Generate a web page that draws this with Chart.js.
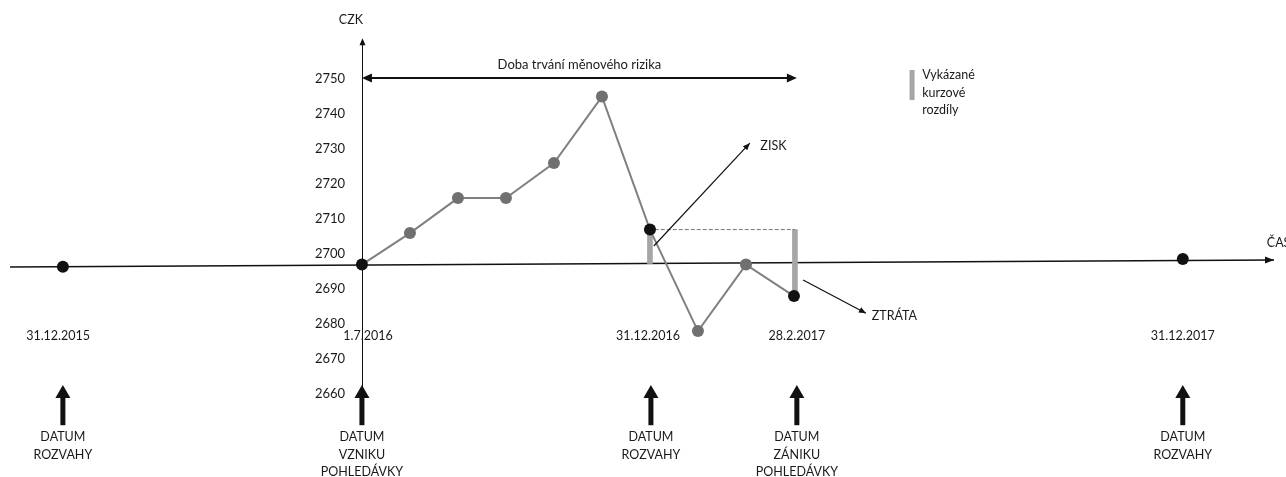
<!DOCTYPE html>
<html lang="cs">
<head>
<meta charset="utf-8">
<title>Doba trvání měnového rizika</title>
<script src="https://cdn.jsdelivr.net/npm/chart.js"></script>
<style>
	html, body { margin: 0; padding: 0; background: #fff; }
	#wrap { width: 1286px; height: 477px; }
</style>
</head>
<body>
<div id="wrap"><canvas id="chart-fx-risk" width="1286" height="477"></canvas></div>
<script>
// x runs in timeline "steps" (0 = 1.7.2016), y is the rate in CZK
const STEPS = [0, 1, 2, 3, 4, 5, 6, 7, 8, 9];
const RATES = [2697, 2706, 2716, 2716, 2726, 2745, 2707, 2678, 2697, 2688];
const KEY_STEPS = [0, 6, 9]; // vznik, rozvaha, zánik -> black points

const BALANCE_X = [-6.23, 17.1];
const BALANCE_Y = [2696.4, 2698.6];

const TIMELINE_X = [-7.33, 19.0];
const TIMELINE_Y = [2696.3, 2698.3];

// vykázané kurzové rozdíly
const DIFF_X = [6.0, 9.02];
const DIFF_RANGES = [[2697.3, 2707], [2688, 2707]];
const DASH_X = [6.1, 9.02];
const DASH_Y = [2707, 2707];

const Y_TICKS = [2660, 2670, 2680, 2690, 2700, 2710, 2720, 2730, 2740, 2750];

const DATE_LABELS = ["31.12.2015", "1.7.2016", "31.12.2016", "28.2.2017", "31.12.2017"];
const DATE_X = [-6.33, 0.125, 5.96, 9.06, 17.1];

const EVENT_X = [-6.23, 0, 6.02, 9.06, 17.1];
const EVENT_LABELS = [
	["DATUM", "ROZVAHY"],
	["DATUM", "VZNIKU", "POHLEDÁVKY"],
	["DATUM", "ROZVAHY"],
	["DATUM", "ZÁNIKU", "POHLEDÁVKY"],
	["DATUM", "ROZVAHY"],
];

const TEXT = "#1a1a1a";
const FAMILY = "Lato, 'Open Sans', sans-serif";
const FONT = `12.5px ${FAMILY}`;

//--------------------------------------------
// Annotations (arrows, captions)
//--------------------------------------------
const arrowHead = (ctx, x1, y1, x2, y2, len, half) => {
	const a = Math.atan2(y2 - y1, x2 - x1);
	const c = Math.cos(a), s = Math.sin(a);
	ctx.beginPath();
	ctx.moveTo(x2, y2);
	ctx.lineTo(x2 - len * c + half * s, y2 - len * s - half * c);
	ctx.lineTo(x2 - len * c - half * s, y2 - len * s + half * c);
	ctx.closePath();
	ctx.fill();
};

const line = (ctx, x1, y1, x2, y2, width) => {
	ctx.lineWidth = width;
	ctx.beginPath();
	ctx.moveTo(x1, y1);
	ctx.lineTo(x2, y2);
	ctx.stroke();
};

const text = (ctx, str, x, y, align) => {
	ctx.textAlign = align || "center";
	ctx.textBaseline = "middle";
	ctx.fillText(str, x, y);
};

const diagramPlugin = {
	id: "diagram",
	beforeDatasetsDraw(chart) {
		const { ctx } = chart;
		const X = (v) => chart.scales.x.getPixelForValue(v);
		const Y = (v) => chart.scales.y.getPixelForValue(v);
		ctx.save();
		ctx.strokeStyle = "#111";
		ctx.fillStyle = "#111";
		// y axis with arrow
		const x0 = Math.round(X(0)) + 0.5;
		line(ctx, x0, Y(2660.5), x0, Y(2761.2), 1);
		arrowHead(ctx, x0, Y(2700), x0, Y(2761.7), 7, 3);
		ctx.restore();
	},
	afterDatasetsDraw(chart) {
		const { ctx } = chart;
		const X = (v) => chart.scales.x.getPixelForValue(v);
		const Y = (v) => chart.scales.y.getPixelForValue(v);
		ctx.save();
		ctx.strokeStyle = "#111";
		ctx.fillStyle = "#111";

		// timeline arrow head
		arrowHead(ctx, X(TIMELINE_X[0]), Y(TIMELINE_Y[0]), X(TIMELINE_X[1]), Y(TIMELINE_Y[1]), 9, 3.5);

		// doba trvání měnového rizika
		const ry = Y(2750.3);
		line(ctx, X(0) + 6, ry, X(9.06) - 6, ry, 2);
		arrowHead(ctx, X(9.06), ry, X(0), ry, 10, 4.5);
		arrowHead(ctx, X(0), ry, X(9.06), ry, 10, 4.5);

		// zisk / ztráta pointers
		line(ctx, X(6.08), Y(2702.3), X(8.08), Y(2731.7), 1.2);
		arrowHead(ctx, X(6.08), Y(2702.3), X(8.08), Y(2731.7), 7, 3);
		line(ctx, X(9.19), Y(2692.6), X(10.5), Y(2683.1), 1.2);
		arrowHead(ctx, X(9.19), Y(2692.6), X(10.5), Y(2683.1), 7, 3);

		// event arrows
		EVENT_X.forEach((ev) => {
			const cx = X(ev);
			const tip = Y(2662.6);
			const base = Y(2651.1);
			ctx.fillRect(cx - 2.5, tip + 12, 5, base - tip - 12);
			ctx.beginPath();
			ctx.moveTo(cx, tip);
			ctx.lineTo(cx + 7.5, tip + 13);
			ctx.lineTo(cx - 7.5, tip + 13);
			ctx.closePath();
			ctx.fill();
		});

		// legend swatch
		ctx.fillStyle = "#a6a6a6";
		ctx.fillRect(X(11.46) - 2.5, Y(2752.6), 5, Y(2744) - Y(2752.6));

		// texts
		ctx.fillStyle = TEXT;
		ctx.font = FONT;
		text(ctx, "CZK", X(-0.23), Y(2766.9));
		text(ctx, "ZISK", X(8.3), Y(2730.9), "left");
		text(ctx, "ZTRÁTA", X(10.62), Y(2682.3), "left");
		text(ctx, "ČAS", X(18.85), Y(2703.1), "left");
		["Vykázané", "kurzové", "rozdíly"].forEach((s, i) => {
			text(ctx, s, X(11.67), Y(2751.1) + i * 17.5, "left");
		});
		DATE_LABELS.forEach((s, i) => text(ctx, s, X(DATE_X[i]), Y(2676.6)));
		EVENT_LABELS.forEach((rows, i) => {
			rows.forEach((s, j) => text(ctx, s, X(EVENT_X[i]), Y(2647.7) + j * 17.5));
		});
		ctx.font = `13px ${FAMILY}`;
		text(ctx, "Doba trvání měnového rizika", X(4.53), Y(2754.1));
		ctx.restore();
	},
};

//--------------------------------------------
// Chart
//--------------------------------------------
const CHART_DATA = {
	datasets: [
		{
			type: "line",
			label: "Kurz",
			data: STEPS.map((x, i) => ({ x, y: RATES[i] })),
			borderColor: "#808080",
			borderWidth: 2,
			pointRadius: 6,
			pointBorderWidth: 0,
			pointBackgroundColor: STEPS.map((x) => (KEY_STEPS.includes(x) ? "#111111" : "#707070")),
			order: 2,
		},
		{
			type: "line",
			label: "Časová osa",
			data: TIMELINE_X.map((x, i) => ({ x, y: TIMELINE_Y[i] })),
			borderColor: "#111111",
			borderWidth: 1.4,
			pointRadius: 0,
			order: 5,
		},
		{
			type: "line",
			label: "Rozvaha",
			data: BALANCE_X.map((x, i) => ({ x, y: BALANCE_Y[i] })),
			showLine: false,
			pointRadius: 6,
			pointBorderWidth: 0,
			pointBackgroundColor: "#111111",
			order: 1,
		},
		{
			type: "line",
			label: "Úroveň",
			data: DASH_X.map((x, i) => ({ x, y: DASH_Y[i] })),
			borderColor: "#777777",
			borderWidth: 1,
			borderDash: [4, 2],
			pointRadius: 0,
			order: 3,
		},
		{
			type: "bar",
			label: "Vykázané kurzové rozdíly",
			data: DIFF_X.map((x, i) => ({ x, y: DIFF_RANGES[i] })),
			backgroundColor: "#a6a6a6",
			borderWidth: 0,
			barThickness: 5,
			order: 4,
		},
	],
};

const CHART_CONFIG = {
	type: "line",
	data: CHART_DATA,
	plugins: [diagramPlugin],
	options: {
		responsive: false,
		devicePixelRatio: 1,
		animation: false,
		events: [],
		layout: { padding: 0, autoPadding: false },
		scales: {
			x: {
				type: "linear",
				display: false,
				offset: false,
				min: -7.54,
				max: 19.25,
			},
			y: {
				type: "linear",
				position: { x: -0.35 },
				min: 2636.3,
				max: 2772.6,
				beginAtZero: false,
				grid: { display: false, drawTicks: false },
				border: { display: false },
				ticks: {
					color: TEXT,
					font: { family: FAMILY, size: 13 },
					padding: 0,
					callback: (value) => String(value),
				},
				afterBuildTicks: (scale) => {
					scale.ticks = Y_TICKS.map((value) => ({ value }));
				},
				afterFit: (scale) => {
					scale.paddingTop = 0;
					scale.paddingBottom = 0;
				},
			},
		},
		plugins: {
			legend: { display: false },
			title: { display: false },
			tooltip: { enabled: false },
		},
	},
};

new Chart(document.getElementById("chart-fx-risk"), CHART_CONFIG);
</script>
</body>
</html>
